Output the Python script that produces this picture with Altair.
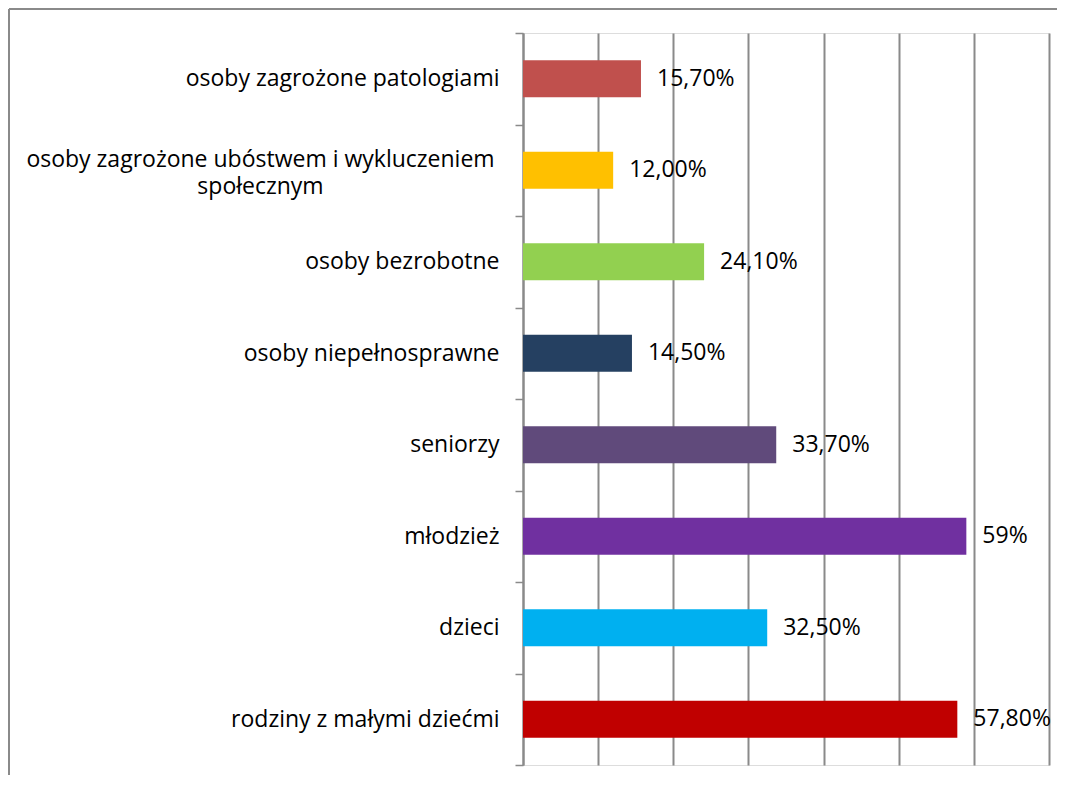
import altair as alt
import pandas as pd

categories = [
    "osoby zagrożone patologiami",
    "osoby zagrożone ubóstwem i wykluczeniem\nspołecznym",
    "osoby bezrobotne",
    "osoby niepełnosprawne",
    "seniorzy",
    "młodzież",
    "dzieci",
    "rodziny z małymi dziećmi",
]
values = [15.7, 12.0, 24.1, 14.5, 33.7, 59.0, 32.5, 57.8]
value_labels = ["15,70%", "12,00%", "24,10%", "14,50%", "33,70%", "59%", "32,50%", "57,80%"]
colors = ["#C0504D", "#FFC000", "#92D050", "#254061", "#604A7B", "#7030A0", "#00B0F0", "#C00000"]
x_ticks = [0, 10, 20, 30, 40, 50, 60, 70]

df = pd.DataFrame({"kategoria": categories, "wartosc": values, "etykieta": value_labels})

FONT = "Open Sans"
FS = 23
GRAY = "#8a8a8a"
MULTI = "indexof(datum.label, '\\n') >= 0"

y_enc = alt.Y(
    "kategoria:N",
    sort=categories,
    scale=alt.Scale(paddingInner=0, paddingOuter=0),
    axis=alt.Axis(
        title=None,
        labelFont=FONT,
        labelFontSize=FS,
        labelColor="#000000",
        labelLimit=600,
        labelLineHeight=27,
        labelExpr="split(datum.label, '\\n')",
        labelAlign={"condition": {"test": MULTI, "value": "center"}, "value": "right"},
        labelPadding={"condition": {"test": MULTI, "value": 255}, "value": 16},
        labelOffset={"condition": {"test": MULTI, "value": -11}, "value": 0},
        tickBand="extent",
        tickSize=8,
        tickColor=GRAY,
        tickWidth=1.5,
        domainColor=GRAY,
        domainWidth=2,
        grid=False,
    ),
)

x_enc = alt.X(
    "wartosc:Q",
    scale=alt.Scale(domain=[0, 70], nice=False),
    axis=alt.Axis(
        values=x_ticks,
        labels=False,
        ticks=False,
        domain=False,
        title=None,
        grid=True,
        gridColor=GRAY,
        gridWidth=2,
    ),
)

bars = alt.Chart(df).mark_bar(size=37).encode(
    x=x_enc,
    y=y_enc,
    color=alt.Color("kategoria:N", scale=alt.Scale(domain=categories, range=colors), legend=None),
)

texts = alt.Chart(df).mark_text(
    align="left", baseline="middle", dx=16, font=FONT, fontSize=FS, color="#000000"
).encode(
    x="wartosc:Q",
    y=alt.Y("kategoria:N", sort=categories),
    text="etykieta:N",
)

frame_df = pd.DataFrame({"a": [0]})
frame_left = alt.Chart(frame_df).mark_rule(color=GRAY, strokeWidth=2).encode(
    x=alt.value(-514), y=alt.value(-24), y2=alt.value(745)
)
frame_top = alt.Chart(frame_df).mark_rule(color=GRAY, strokeWidth=2).encode(
    x=alt.value(-514), x2=alt.value(537), y=alt.value(-24)
)

chart = alt.layer(bars, texts, frame_left, frame_top).properties(
    width=526,
    height=732,
    autosize=alt.AutoSizeParams(type="none"),
    padding={"left": 515, "top": 25, "right": 8, "bottom": 10},
).configure_view(stroke=None).configure(background="white")

chart.save("out.html", embed_options={"renderer": "svg", "actions": False})
